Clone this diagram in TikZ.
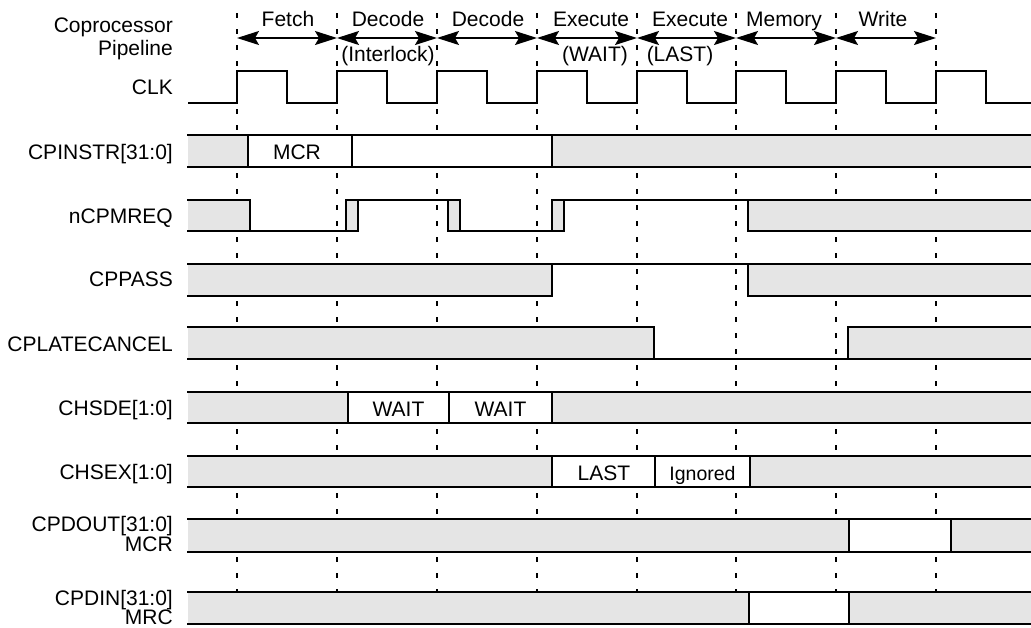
\documentclass[tikz,border=0pt]{standalone}
\usepackage{fontspec}
\setmainfont{Liberation Sans}
\usetikzlibrary{arrows.meta}
\begin{document}
\begin{tikzpicture}[x=1pt,y=-1pt,
  sig/.style={line width=2pt, line cap=rect},
  dline/.style={line width=1.3pt, dash pattern=on 5pt off 11pt},
  gbus/.style={fill=black!10, draw=none},
  wbus/.style={fill=white, draw=none},
  lbl/.style={font=\fontsize{21}{25}\selectfont, inner sep=0pt},
  hdr/.style={line width=1.5pt, {Stealth[length=22pt,width=14pt,inset=4pt]}-{Stealth[length=22pt,width=14pt,inset=4pt]}}
]
\useasboundingbox (0,0) rectangle (1031,627);

% dashed clock-edge guides
\foreach \x in {237,337,437,537,637,736,836,936}
  \draw[dline] (\x,13) -- (\x,624);

% header arrows
\foreach \i/\x in {0/237,1/337,2/437,3/537,4/637,5/736,6/836,7/936}
  \coordinate (p\i) at (\x,38);
\draw[hdr] (p0) -- (p1);
\draw[hdr] (p1) -- (p2);
\draw[hdr] (p2) -- (p3);
\draw[hdr] (p3) -- (p4);
\draw[hdr] (p4) -- (p5);
\draw[hdr] (p5) -- (p6);
\draw[hdr] (p6) -- (p7);

\node[lbl, anchor=base] (hf) at (288,26.7) {Fetch};
\node[lbl, anchor=base] (hd1) at (388,26.7) {Decode};
\node[lbl, anchor=base] (hd2) at (488,26.7) {Decode};
\node[lbl, anchor=base] (he1) at (591,26.7) {Execute};
\node[lbl, anchor=base] (he2) at (690,26.7) {Execute};
\node[lbl, anchor=base] (hm) at (784,26.7) {Memory};
\node[lbl, anchor=base] (hw) at (883,26.7) {Write};
\node[lbl, anchor=base] (hil) at (388,61.7) {(Interlock)};
\node[lbl, anchor=base] (hwt) at (595,61.7) {(WAIT)};
\node[lbl, anchor=base] (hls) at (680,61.7) {(LAST)};

% left labels
\node[lbl, anchor=base east] (lcop) at (173,32) {Coprocessor};
\node[lbl, anchor=base east] (lpip) at (173,55) {Pipeline};
\node[lbl, anchor=base east] (lclk) at (173,94.5) {CLK};
\node[lbl, anchor=base east] (linstr) at (173,159) {CPINSTR[31:0]};
\node[lbl, anchor=base east] (lreq) at (173,223) {nCPMREQ};
\node[lbl, anchor=base east] (lpass) at (173,286.5) {CPPASS};
\node[lbl, anchor=base east] (llate) at (173,351) {CPLATECANCEL};
\node[lbl, anchor=base east] (lhsde) at (173,415) {CHSDE[1:0]};
\node[lbl, anchor=base east] (lhsex) at (173,479) {CHSEX[1:0]};
\node[lbl, anchor=base east] (ldout) at (173,531) {CPDOUT[31:0]};
\node[lbl, anchor=base east] (ldoutm) at (173,551.5) {MCR};
\node[lbl, anchor=base east] (ldin) at (173,605.5) {CPDIN[31:0]};
\node[lbl, anchor=base east] (ldinm) at (173,624.5) {MRC};

% CLK
\draw[line width=2pt] (188,103)
  \foreach \x in {237,337,437,537,637,736,836,936} {
    -- (\x,103) -- (\x,71) -- (\x+50,71) -- (\x+50,103)
  } -- (1031,103);

% CPINSTR
\fill[gbus] (188,135) rectangle (248,167);
\fill[wbus] (248,135) rectangle (552,167);
\fill[gbus] (552,135) rectangle (1031,167);
\draw[sig] (188,135) -- (1031,135) (188,167) -- (1031,167)
  (248,135) -- (248,167) (352,135) -- (352,167) (552,135) -- (552,167);
\node[lbl, anchor=base] (tmcr) at (297,159) {MCR};

% nCPMREQ
\fill[gbus] (188,200) rectangle (250,231);
\fill[gbus] (346,200) rectangle (358,231);
\fill[gbus] (448,200) rectangle (460,231);
\fill[gbus] (552,200) rectangle (564,231);
\fill[gbus] (748,200) rectangle (1031,231);
\draw[sig] (188,200) -- (250,200) (346,200) -- (460,200) (552,200) -- (1031,200)
  (188,231) -- (358,231) (448,231) -- (564,231) (748,231) -- (1031,231)
  \foreach \x in {250,346,358,448,460,552,564,748} { (\x,200) -- (\x,231) };

% CPPASS
\fill[gbus] (188,264) rectangle (552,296);
\fill[gbus] (748,264) rectangle (1031,296);
\draw[sig] (188,264) -- (1031,264) (188,296) -- (552,296) (748,296) -- (1031,296)
  (552,264) -- (552,296) (748,264) -- (748,296);

% CPLATECANCEL
\fill[gbus] (188,327) rectangle (654,359);
\fill[gbus] (848,327) rectangle (1031,359);
\draw[sig] (188,327) -- (654,327) (848,327) -- (1031,327) (188,359) -- (1031,359)
  (654,327) -- (654,359) (848,327) -- (848,359);

% CHSDE
\fill[gbus] (188,392) rectangle (348,423);
\fill[wbus] (348,392) rectangle (552,423);
\fill[gbus] (552,392) rectangle (1031,423);
\draw[sig] (188,392) -- (1031,392) (188,423) -- (1031,423)
  (348,392) -- (348,423) (449,392) -- (449,423) (552,392) -- (552,423);
\node[lbl, anchor=base] (twait1) at (398.5,416.5) {WAIT};
\node[lbl, anchor=base] (twait2) at (500.5,416.5) {WAIT};

% CHSEX
\fill[gbus] (188,456) rectangle (552,487);
\fill[wbus] (552,456) rectangle (750,487);
\fill[gbus] (750,456) rectangle (1031,487);
\draw[sig] (188,456) -- (1031,456) (188,487) -- (1031,487)
  (552,456) -- (552,487) (655,456) -- (655,487) (750,456) -- (750,487);
\node[lbl, anchor=base] (tlast) at (604,480) {LAST};
\node[lbl, anchor=base, font=\fontsize{19.5}{23}\selectfont] (tign) at (702.5,480) {Ignored};

% CPDOUT
\fill[gbus] (188,519) rectangle (849,552);
\fill[wbus] (849,519) rectangle (951,552);
\fill[gbus] (951,519) rectangle (1031,552);
\draw[sig] (188,519) -- (1031,519) (188,552) -- (1031,552)
  (849,519) -- (849,552) (951,519) -- (951,552);

% CPDIN
\fill[gbus] (188,592) rectangle (749,624);
\fill[wbus] (749,592) rectangle (849,624);
\fill[gbus] (849,592) rectangle (1031,624);
\draw[sig] (188,592) -- (1031,592) (188,624) -- (1031,624)
  (749,592) -- (749,624) (849,592) -- (849,624);
\end{tikzpicture}
\end{document}
